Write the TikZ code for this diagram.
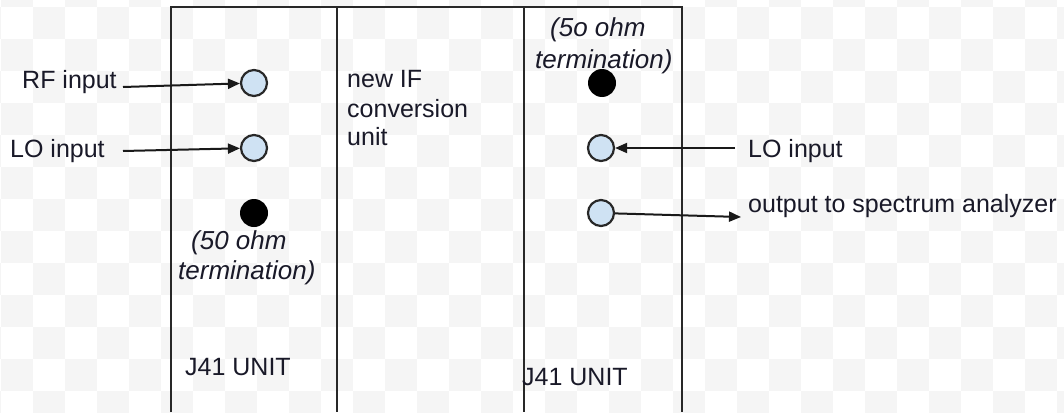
\documentclass[tikz,border=0pt]{standalone}
\usepackage{fontspec}
\setmainfont{Liberation Sans}
\usetikzlibrary{arrows.meta}
\definecolor{checker}{RGB}{245,245,245}
\definecolor{portfill}{RGB}{207,226,243}
\definecolor{framecol}{RGB}{40,40,40}
\definecolor{txtcol}{RGB}{25,25,40}
\tikzset{
  frameline/.style={draw=framecol, line width=2.8pt},
  port/.style={circle, draw=framecol, line width=2.2pt, fill=portfill, minimum size=26pt, inner sep=0pt},
  term/.style={circle, fill=black, minimum size=28pt, inner sep=0pt},
  arr/.style={draw=black!90, line width=2pt, -{Triangle[length=12pt,width=10pt]}},
  lbl/.style={anchor=base west, inner sep=0pt, text=txtcol, font=\fontsize{25}{30}\selectfont},
  ilbl/.style={lbl, font=\fontsize{26}{30}\selectfont\itshape},
}
\begin{document}
\begin{tikzpicture}[x=1pt,y=-1pt]
\useasboundingbox (0,0) rectangle (1064,412);
% checkerboard background
\foreach \i in {-1,...,33}{
  \foreach \j in {-1,...,12}{
    \pgfmathtruncatemacro\cksum{\i+\j}
    \ifodd\cksum
      \fill[checker] (1+32*\i,6.7+32*\j) rectangle ++(32,32);
    \fi
  }
}
% frame
\draw[frameline] (171,412) -- (171,7) -- (682,7) -- (682,412);
\draw[frameline] (337,7) -- (337,412);
\draw[frameline] (524,7) -- (524,412);
% left unit ports
\node[port] (rf) at (254,83) {};
\node[port] (loL) at (254,148) {};
\node[term] (termL) at (254,213) {};
% right unit ports
\node[term] (termR) at (602,83) {};
\node[port] (loR) at (601,148) {};
\node[port] (out) at (601,213) {};
% free ends
\coordinate (rfsrc) at (123,87);
\coordinate (loLsrc) at (123,151);
\coordinate (loRsrc) at (735,148);
\coordinate (outdst) at (741,217);
% connectors
\draw[arr] (rfsrc) -- (rf);
\draw[arr] (loLsrc) -- (loL);
\draw[arr] (loRsrc) -- (loR);
\draw[arr] (out) -- (outdst);
% labels
\node[lbl] (trf) at (22,88) {RF input};
\node[lbl] (tloL) at (10,157) {LO input};
\node[ilbl] (t50a) at (191,249) {(50 ohm};
\node[ilbl] (t50b) at (178,279) {termination)};
\node[lbl] (tj41a) at (185,375) {J41 UNIT};
\node[lbl] (tnew1) at (347,87) {new IF};
\node[lbl] (tnew2) at (347,117) {conversion};
\node[lbl] (tnew3) at (347,145) {unit};
\node[ilbl] (t5oa) at (550,37) {(5o ohm};
\node[ilbl] (t5ob) at (535,68) {termination)};
\node[lbl] (tloR) at (748,157) {LO input};
\node[lbl] (tout) at (748,212) {output to spectrum analyzer};
\node[lbl] (tj41b) at (522,385) {J41 UNIT};
\end{tikzpicture}
\end{document}
